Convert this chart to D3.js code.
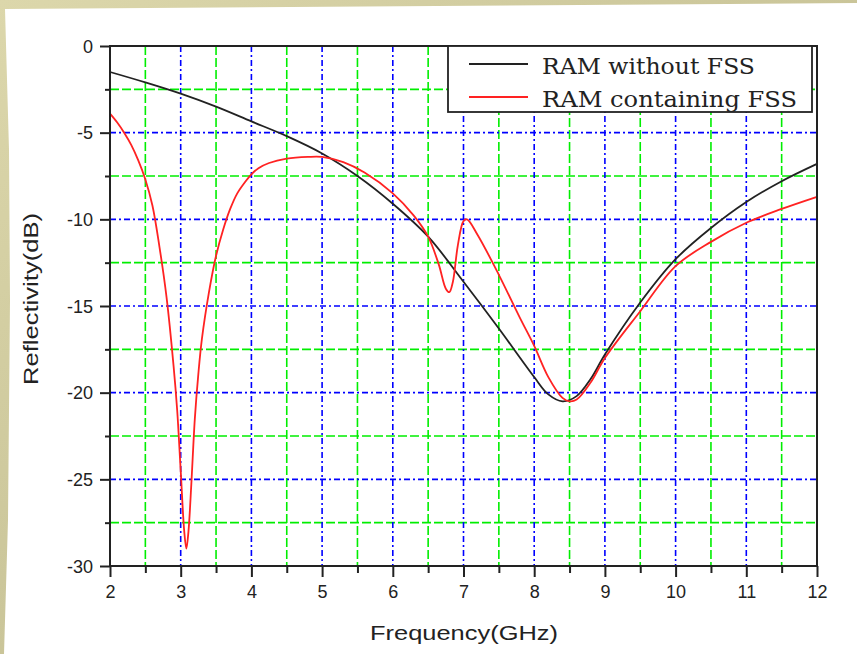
<!DOCTYPE html>
<html>
<head>
<meta charset="utf-8">
<script src="https://cdn.jsdelivr.net/npm/d3@7/dist/d3.min.js"></script>
<style>
html,body{margin:0;padding:0;background:#cdc79a;}
svg{display:block;}
</style>
</head>
<body>
<svg id="chart" width="857" height="654"></svg>
<script>
// ---- data ----
const xTicks = [2,3,4,5,6,7,8,9,10,11,12];
const xMinor = [2.5,3.5,4.5,5.5,6.5,7.5,8.5,9.5,10.5,11.5];
const yTicks = [0,-5,-10,-15,-20,-25,-30];
const yMinor = [-2.5,-7.5,-12.5,-17.5,-22.5,-27.5];
const seriesNames = ["RAM without FSS","RAM containing FSS"];

const freqBlack = [2.0,2.5,3.0,3.5,4.0,4.5,5.0,5.5,6.0,6.5,7.0,7.5,8.0,8.2,8.4,8.6,8.8,9.0,9.5,10.0,10.5,11.0,11.5,12.0];
const reflBlack = [-1.5,-2.1,-2.75,-3.5,-4.35,-5.2,-6.2,-7.5,-9.1,-11.0,-13.6,-16.3,-19.1,-20.1,-20.5,-20.2,-19.2,-17.8,-14.8,-12.3,-10.5,-9.0,-7.8,-6.8];

const freqRed = [2.0,2.1,2.2,2.3,2.4,2.5,2.6,2.7,2.8,2.9,2.95,3.0,3.05,3.08,3.11,3.15,3.2,3.25,3.3,3.4,3.5,3.6,3.7,3.8,3.9,4.0,4.1,4.25,4.5,4.8,5.0,5.3,5.6,6.0,6.3,6.5,6.65,6.75,6.8,6.85,6.92,7.0,7.05,7.2,7.5,7.8,8.0,8.2,8.4,8.5,8.6,8.8,9.0,9.5,10.0,10.5,11.0,11.5,12.0];
const reflRed = [-3.9,-4.4,-5.0,-5.7,-6.6,-7.7,-9.2,-11.6,-14.5,-18.5,-21.0,-24.5,-28.0,-29.0,-28.0,-25.3,-21.5,-18.9,-16.9,-14.2,-12.1,-10.6,-9.4,-8.5,-7.9,-7.4,-7.05,-6.75,-6.5,-6.4,-6.4,-6.7,-7.3,-8.5,-9.8,-11.0,-12.6,-14.0,-14.2,-13.6,-11.5,-10.1,-10.0,-10.9,-13.2,-15.7,-17.3,-19.1,-20.3,-20.5,-20.4,-19.4,-18.0,-15.3,-12.7,-11.3,-10.2,-9.4,-8.7];

// ---- layout ----
const svg = d3.select("#chart");
const L = 110, R = 817, T = 46, B = 566;
const x = d3.scaleLinear().domain([2,12]).range([L,R]);
const y = d3.scaleLinear().domain([-30,0]).range([B,T]);

// background page
const defs = svg.append("defs");
const grad = defs.append("linearGradient").attr("id","bg").attr("x1","0").attr("y1","0").attr("x2","1").attr("y2","1");
grad.append("stop").attr("offset","0").attr("stop-color","#dcd7ab");
grad.append("stop").attr("offset","1").attr("stop-color","#b8b387");
svg.append("rect").attr("width",857).attr("height",654).attr("fill","url(#bg)");
svg.append("path")
  .attr("d","M5,9 L857,3 L857,654 L4,654 L8,520 L10,300 L9,150 Z")
  .attr("fill","#ffffff");

// gridlines
const g = svg.append("g");
g.selectAll(".gxm").data(xMinor).join("line")
  .attr("x1",d=>x(d)).attr("x2",d=>x(d)).attr("y1",T).attr("y2",B)
  .attr("stroke","#00ee00").attr("stroke-width",1.6).attr("stroke-dasharray","9,3");
g.selectAll(".gym").data(yMinor).join("line")
  .attr("x1",L).attr("x2",R).attr("y1",d=>y(d)).attr("y2",d=>y(d))
  .attr("stroke","#00ee00").attr("stroke-width",1.6).attr("stroke-dasharray","9,3");
g.selectAll(".gxM").data(xTicks.slice(1,-1)).join("line")
  .attr("x1",d=>x(d)).attr("x2",d=>x(d)).attr("y1",T).attr("y2",B)
  .attr("stroke","#0000ff").attr("stroke-width",1.6).attr("stroke-dasharray","6,3,2,3");
g.selectAll(".gyM").data(yTicks.slice(1,-1)).join("line")
  .attr("x1",L).attr("x2",R).attr("y1",d=>y(d)).attr("y2",d=>y(d))
  .attr("stroke","#0000ff").attr("stroke-width",1.6).attr("stroke-dasharray","6,3,2,3");

// curves
const line = d3.line().x(d=>x(d[0])).y(d=>y(d[1])).curve(d3.curveCatmullRom.alpha(0.5));
const black = freqBlack.map((f,i)=>[f,reflBlack[i]]);
const red = freqRed.map((f,i)=>[f,reflRed[i]]);
svg.append("path").attr("d",line(black)).attr("fill","none").attr("stroke","#222").attr("stroke-width",1.8);
svg.append("path").attr("d",line(red)).attr("fill","none").attr("stroke","#ff2222").attr("stroke-width",1.8);

// frame
svg.append("rect").attr("x",L).attr("y",T).attr("width",R-L).attr("height",B-T)
  .attr("fill","none").attr("stroke","#222").attr("stroke-width",2);

// axes
const fontAx = "Liberation Sans, Arial, sans-serif";
const fmt = d => String(d);
const yAxis = svg.append("g").attr("transform",`translate(${L},0)`)
  .call(d3.axisLeft(y).tickValues(yTicks).tickSize(10).tickPadding(7).tickFormat(fmt));
const yAxisMinor = svg.append("g").attr("transform",`translate(${L},0)`)
  .call(d3.axisLeft(y).tickValues(yMinor).tickSize(5).tickFormat(""));
const xAxis = svg.append("g").attr("transform",`translate(0,${B})`)
  .call(d3.axisBottom(x).tickValues(xTicks).tickSize(11).tickPadding(8).tickFormat(fmt));
const xAxisMinor = svg.append("g").attr("transform",`translate(0,${B})`)
  .call(d3.axisBottom(x).tickValues(xMinor).tickSize(7).tickFormat(""));
[yAxis,yAxisMinor,xAxis,xAxisMinor].forEach(a=>{
  a.select(".domain").remove();
  a.selectAll(".tick line").attr("stroke","#222").attr("stroke-width",2);
  a.selectAll(".tick text").attr("fill","#222").attr("font-family",fontAx).attr("font-size",18);
});
yAxis.selectAll(".tick text").attr("dy","0.35em");

// axis titles
svg.append("text").attr("x",464).attr("y",640).attr("text-anchor","middle")
  .attr("font-family",fontAx).attr("font-size",21).attr("fill","#222")
  .attr("textLength",188).attr("lengthAdjust","spacingAndGlyphs")
  .text("Frequency(GHz)");
svg.append("text").attr("transform","translate(38,299) rotate(-90)").attr("text-anchor","middle")
  .attr("font-family",fontAx).attr("font-size",21).attr("fill","#222")
  .attr("textLength",172).attr("lengthAdjust","spacingAndGlyphs")
  .text("Reflectivity(dB)");

// legend
const lg = svg.append("g");
lg.append("rect").attr("x",448).attr("y",T).attr("width",364).attr("height",66)
  .attr("fill","#fff").attr("stroke","#222").attr("stroke-width",1.8);
const legendColors = ["#222","#ff2222"];
const legendY = [64,97];
const legendLen = [213,255];
seriesNames.forEach((name,i)=>{
  lg.append("line").attr("x1",469).attr("x2",528).attr("y1",legendY[i]).attr("y2",legendY[i])
    .attr("stroke",legendColors[i]).attr("stroke-width",1.8);
  lg.append("text").attr("x",542).attr("y",legendY[i]+10)
    .attr("font-family","DejaVu Serif, serif").attr("font-size",22).attr("fill","#222")
    .attr("textLength",legendLen[i]).attr("lengthAdjust","spacingAndGlyphs")
    .text(name);
});
</script>
</body>
</html>
